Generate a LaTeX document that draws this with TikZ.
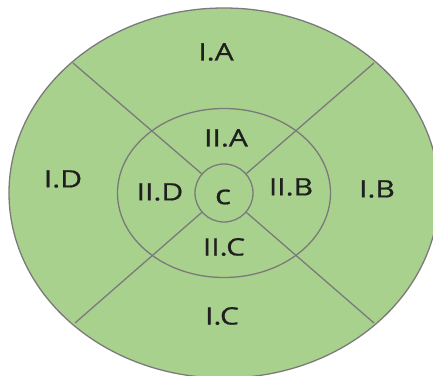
\documentclass[tikz,border=0pt]{standalone}
\usepackage{fontspec}
\setmainfont{Open Sans}
\newfontfamily\lblfont[FakeBold=0.7]{Open Sans}
\usetikzlibrary{shapes.geometric}
\definecolor{fillg}{HTML}{A9D18E}
\definecolor{lineg}{HTML}{7A7A7A}
\tikzset{
  ring/.style={draw=lineg, line width=1.3pt, fill=fillg, inner sep=0pt},
  sep/.style={draw=lineg, line width=1.3pt},
  lbl/.style={font=\lblfont\fontsize{24}{24}\selectfont, text=black!88, inner sep=0pt, xscale=1.25}
}
\begin{document}
\begin{tikzpicture}[x=1pt,y=1pt]
\useasboundingbox (0,0) rectangle (433,375);
\node[ring, ellipse, minimum width=430pt, minimum height=370pt] (outer) at (224,182) {};
\node[ring, ellipse, minimum width=213pt, minimum height=169pt] (mid) at (224,182) {};
\node[ring, circle, minimum size=58pt] (c) at (224,182) {};
\coordinate (ul) at (73,312);
\coordinate (ur) at (374,312);
\coordinate (ll) at (75,52);
\coordinate (lr) at (374,52);
\draw[sep] (c) -- (ul);
\draw[sep] (c) -- (ur);
\draw[sep] (c) -- (ll);
\draw[sep] (c) -- (lr);
\node[lbl] (IA) at (216,323) {I.A};
\node[lbl] (ID) at (63,196) {I.D};
\node[lbl] (IB) at (377,186) {I.B};
\node[lbl] (IC) at (222,59) {I.C};
\node[lbl] (IIA) at (226,237) {II.A};
\node[lbl] (IID) at (160,183) {II.D};
\node[lbl] (IIB) at (291,188) {II.B};
\node[lbl] (IIC) at (224,128) {II.C};
\node[lbl, font=\lblfont\fontsize{27}{27}\selectfont] (cl) at (223,178) {c};
\end{tikzpicture}
\end{document}
